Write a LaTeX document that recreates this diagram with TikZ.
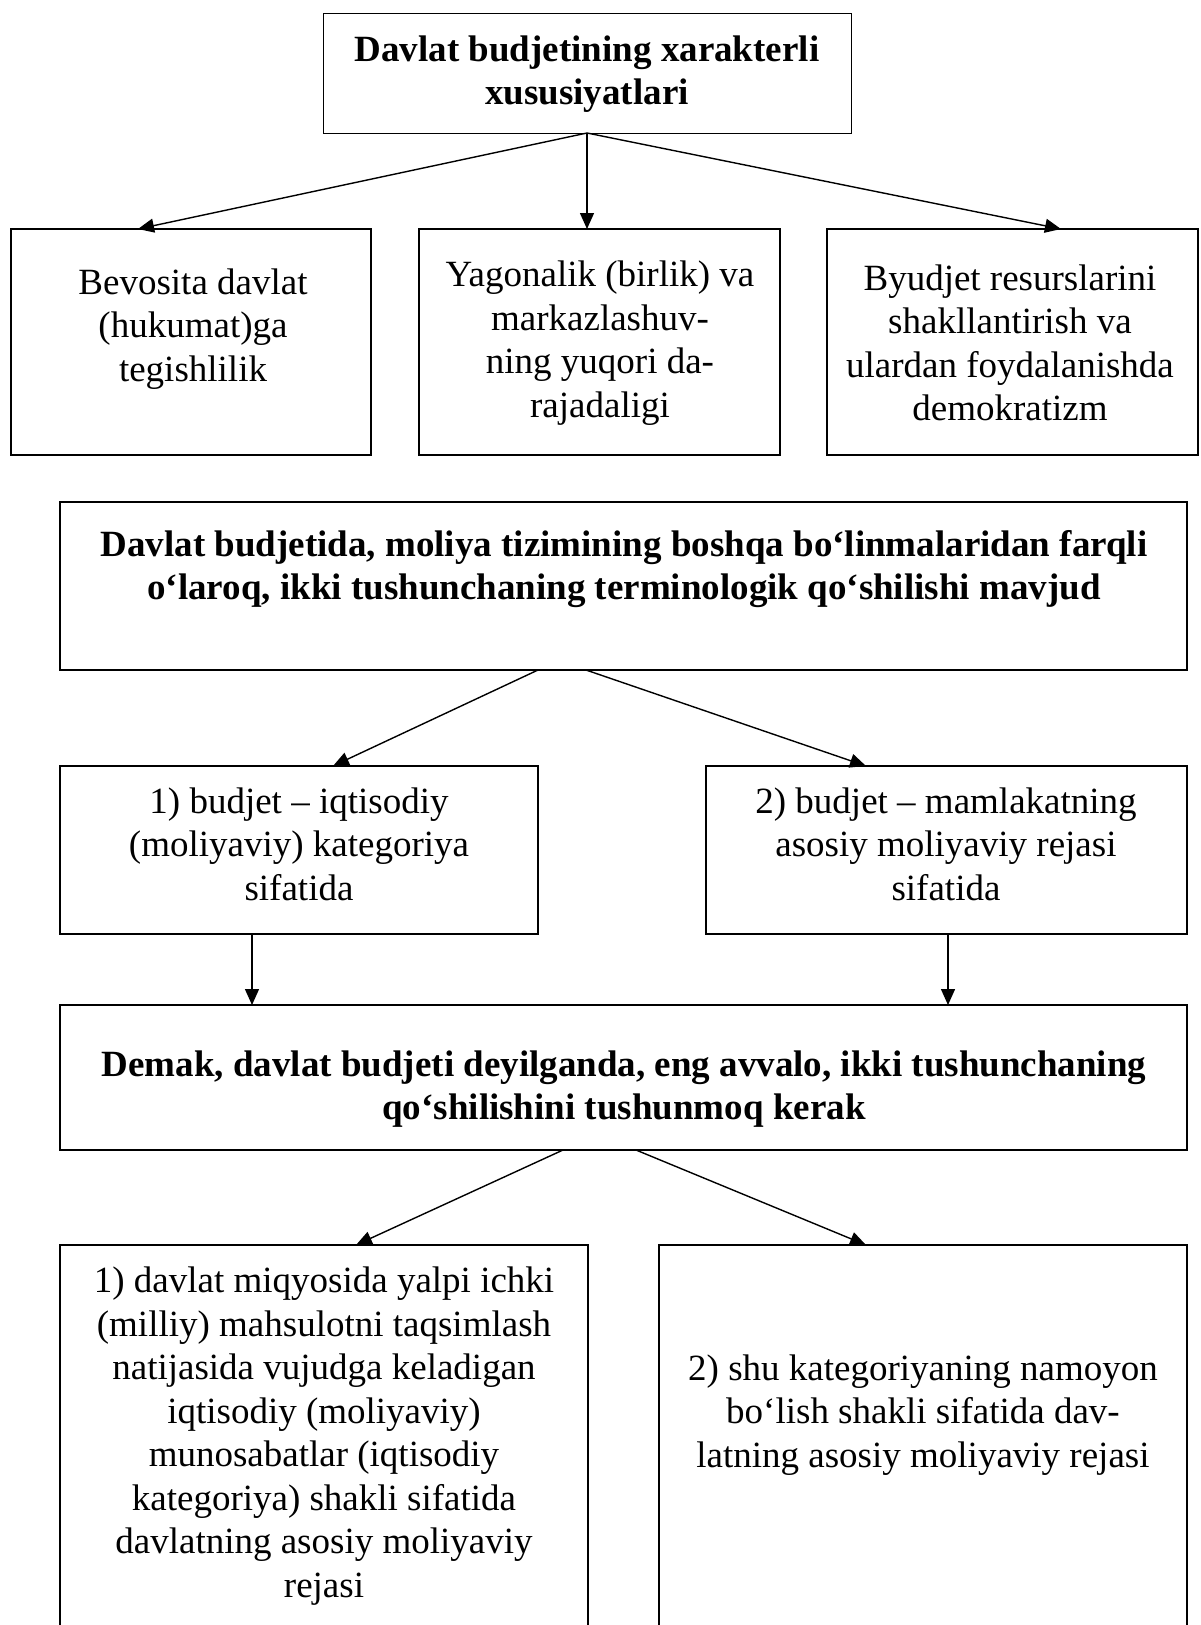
\documentclass[tikz,border=0pt]{standalone}
\usepackage{fontspec}
\setmainfont{Liberation Serif}
\usetikzlibrary{arrows.meta,calc}
\tikzset{
  box/.style={draw, line width=1.8pt, rectangle, inner sep=0pt, outer sep=0pt, anchor=north west},
  thinbox/.style={draw, line width=1pt, rectangle, inner sep=0pt, outer sep=0pt, anchor=north west},
  txt/.style={align=center, inner sep=0pt, font=\fontsize{37}{43.5}\selectfont},
  btxt/.style={align=center, inner sep=0pt, font=\fontsize{37}{43.5}\selectfont\bfseries},
  arr/.style={line width=1.4pt, -{Triangle[width=14pt,length=16pt]}},
}
\begin{document}
\begin{tikzpicture}[x=1pt, y=-1pt]
\useasboundingbox (0,0) rectangle (1201,1625);
% boxes
\node[thinbox, minimum width=528pt, minimum height=120pt] (T) at (323,13) {};
\node[box, minimum width=360pt, minimum height=226pt] (A) at (11,229) {};
\node[box, minimum width=361pt, minimum height=226pt] (B) at (419,229) {};
\node[box, minimum width=371pt, minimum height=226pt] (C) at (827,229) {};
\node[box, minimum width=1127pt, minimum height=168pt] (D) at (60,502) {};
\node[box, minimum width=478pt, minimum height=168pt] (E) at (60,766) {};
\node[box, minimum width=481pt, minimum height=168pt] (F) at (706,766) {};
\node[box, minimum width=1127pt, minimum height=145pt] (G) at (60,1005) {};
\node[box, minimum width=528pt, minimum height=420pt] (H) at (60,1245) {};
\node[box, minimum width=528pt, minimum height=420pt] (I) at (659,1245) {};
% texts
\node[btxt] (Tt) at (587,74) {Davlat budjetining xarakterli\\xususiyatlari};
\node[txt] (At) at (193,329) {Bevosita davlat\\(hukumat)ga\\tegishlilik};
\node[txt] (Bt) at (600,343) {Yagonalik (birlik) va\\markazlashuv-\\ning yuqori da-\\rajadaligi};
\node[txt] (Ct) at (1010,343) {Byudjet resurslarini\\shakllantirish va\\ulardan foydalanishda\\demokratizm};
\node[btxt] (Dt) at (624,569) {Davlat budjetida, moliya tizimining boshqa boʻlinmalaridan farqli\\oʻlaroq, ikki tushunchaning terminologik qoʻshilishi mavjud};
\node[txt] (Et) at (299,844) {1) budjet – iqtisodiy\\(moliyaviy) kategoriya\\sifatida};
\node[txt] (Ft) at (946,844) {2) budjet – mamlakatning\\asosiy moliyaviy rejasi\\sifatida};
\node[btxt] (Gt) at (624,1089) {Demak, davlat budjeti deyilganda, eng avvalo, ikki tushunchaning\\qoʻshilishini tushunmoq kerak};
\node[txt] (Ht) at (324,1436) {1) davlat miqyosida yalpi ichki\\(milliy) mahsulotni taqsimlash\\natijasida vujudga keladigan\\iqtisodiy (moliyaviy)\\munosabatlar (iqtisodiy\\kategoriya) shakli sifatida\\davlatning asosiy moliyaviy\\rejasi};
\node[txt] (It) at (923,1415) {2) shu kategoriyaning namoyon\\boʻlish shakli sifatida dav-\\latning asosiy moliyaviy rejasi};
% connectors
\draw[arr] (T.south) -- ($(A.north west)+(127,0)$);
\draw[arr] (T.south) -- (T.south |- B.north);
\draw[arr] (T.south) -- ($(C.north west)+(234,0)$);
\draw[arr] ($(D.south west)+(478,0)$) -- ($(E.north west)+(273,0)$);
\draw[arr] ($(D.south west)+(526,0)$) -- ($(F.north west)+(160,0)$);
\draw[arr] ($(E.south west)+(192,0)$) -- ($(G.north west)+(192,0)$);
\draw[arr] ($(F.south west)+(242,0)$) -- ($(G.north west)+(888,0)$);
\draw[arr] ($(G.south west)+(503,0)$) -- ($(H.north west)+(296,0)$);
\draw[arr] ($(G.south west)+(576,0)$) -- ($(I.north west)+(207,0)$);
\end{tikzpicture}
\end{document}
